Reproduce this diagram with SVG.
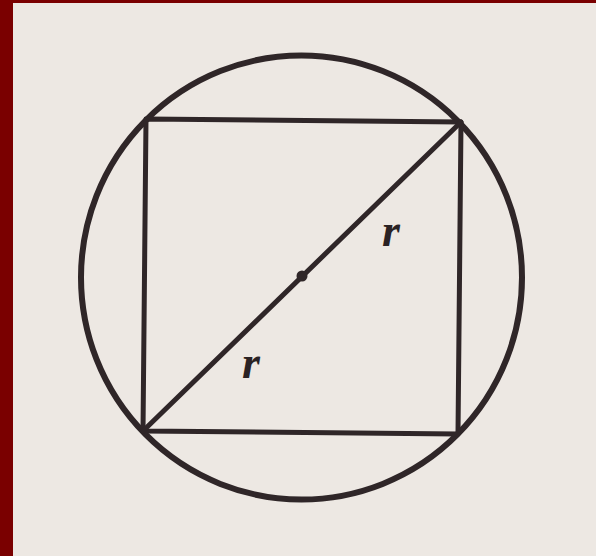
<svg xmlns="http://www.w3.org/2000/svg" width="596" height="556" viewBox="0 0 596 556">
  <style>
    .ln { fill: none; stroke: #2f2628; stroke-width: 5; stroke-linecap: round; stroke-linejoin: round; }
    .lbl { font-family: "Liberation Serif", serif; font-style: italic; font-weight: bold; font-size: 46px; fill: #2a2224; }
  </style>
  <rect x="0" y="0" width="596" height="556" fill="#7a0000"/>
  <rect x="13" y="3" width="583" height="553" fill="#ede8e3"/>
  <g id="circle">
    <ellipse class="ln" cx="301.5" cy="277.5" rx="220.5" ry="222" style="stroke-width:6"/>
  </g>
  <g id="square">
    <polygon class="ln" points="146,119 461,122 458,434 143,431"/>
  </g>
  <g id="connectors">
    <line class="ln" x1="143" y1="431" x2="461" y2="122"/>
  </g>
  <g id="center">
    <circle cx="302" cy="276" r="5.5" fill="#2f2628"/>
  </g>
  <g id="labels">
    <text class="lbl" x="382" y="246">r</text>
    <text class="lbl" x="242" y="378">r</text>
  </g>
</svg>
